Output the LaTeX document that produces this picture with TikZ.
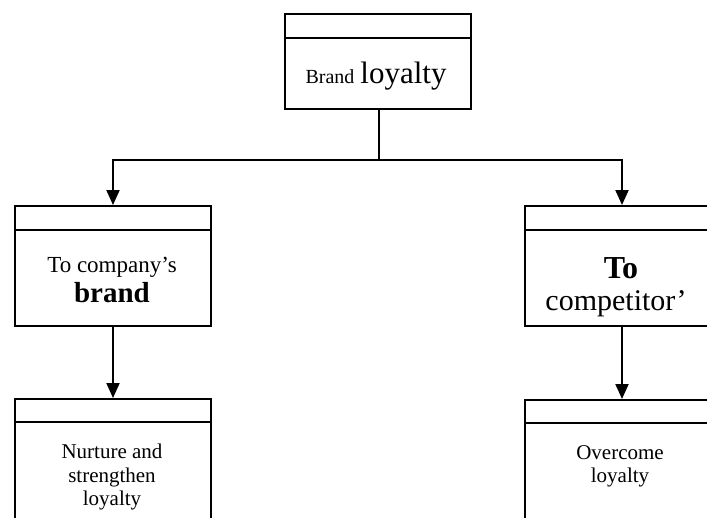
\documentclass[tikz,border=0pt]{standalone}
\usepackage{fontspec}
\setmainfont{Liberation Serif}
\usetikzlibrary{arrows.meta}
\begin{document}
\begin{tikzpicture}[x=1pt,y=-1pt,
  boxframe/.style={draw, line width=2pt, inner sep=0pt, anchor=north west},
  conn/.style={line width=2pt},
  arr/.style={conn, -{Triangle[length=15pt,width=13pt]}},
  lbl/.style={inner sep=0pt, anchor=base}]
\useasboundingbox (0,0) rectangle (707,517);
\clip (0,0) rectangle (707,517);
% boxes
\node[boxframe, minimum width=186pt, minimum height=95pt] (top) at (284,13) {};
\node[boxframe, minimum width=196pt, minimum height=120pt] (midL) at (14,205) {};
\node[boxframe, minimum width=196pt, minimum height=120pt] (midR) at (524,205) {};
\node[boxframe, minimum width=196pt, minimum height=150pt] (botL) at (14,398) {};
\node[boxframe, minimum width=196pt, minimum height=150pt] (botR) at (524,399) {};
% header strips
\foreach \b/\h in {top/25, midL/25, midR/25, botL/24, botR/24}
  \draw[line width=2pt] ([yshift=-\h pt]\b.north west) -- ([yshift=-\h pt]\b.north east);
% texts
\node[lbl] (ttop) at (376,83) {{\fontsize{20}{22}\selectfont Brand}\hspace{6pt}{\fontsize{31}{34}\selectfont loyalty}};
\node[lbl, font=\fontsize{23}{26}\selectfont] (tmidLa) at (112,272) {To company’s};
\node[lbl, font=\fontsize{29}{32}\selectfont\bfseries] (tmidLb) at (112,302) {brand};
\node[lbl, font=\fontsize{32}{34}\selectfont\bfseries] (tmidRa) at (621,278) {To};
\node[lbl, font=\fontsize{30}{34}\selectfont] (tmidRb) at (616,310) {competitor’};
\node[lbl, font=\fontsize{21}{24}\selectfont] (tbotLa) at (112,458) {Nurture and};
\node[lbl, font=\fontsize{21}{24}\selectfont] (tbotLb) at (112,482) {strengthen};
\node[lbl, font=\fontsize{21}{24}\selectfont] (tbotLc) at (112,505) {loyalty};
\node[lbl, font=\fontsize{21}{24}\selectfont] (tbotRa) at (620,459) {Overcome};
\node[lbl, font=\fontsize{21}{24}\selectfont] (tbotRb) at (620,482) {loyalty};
% connectors
\coordinate (split) at (379,160);
\coordinate (rx) at (622,0);
\draw[conn] (top.south -| split) -- (split);
\draw[arr] (split) -| (midL.north);
\draw[arr] (split) -| (midR.north -| rx);
\draw[arr] (midL.south) -- (botL.north -| midL.south);
\draw[arr] (midR.south -| rx) -- (botR.north -| rx);
\end{tikzpicture}
\end{document}
